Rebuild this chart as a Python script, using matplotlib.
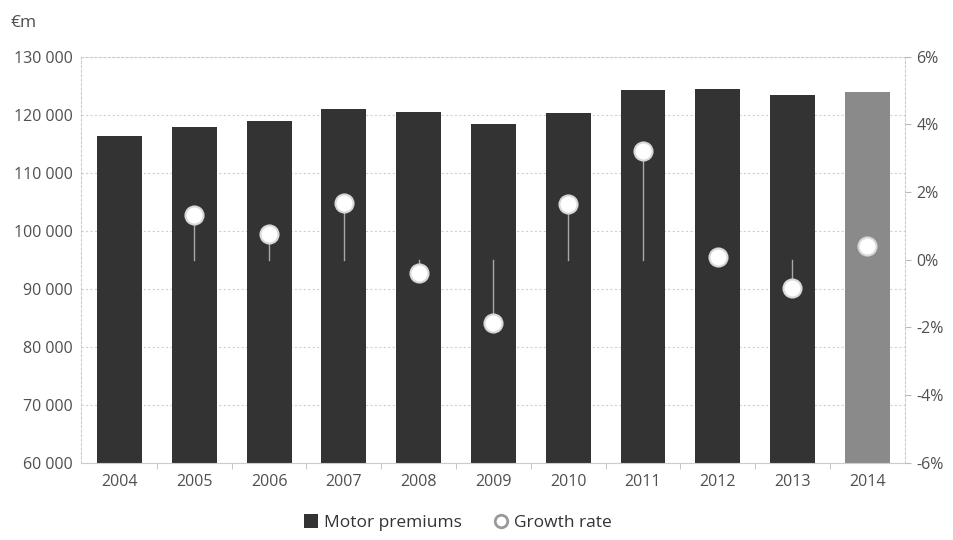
import matplotlib.pyplot as plt
from matplotlib.lines import Line2D
from matplotlib.patches import Patch
from matplotlib.ticker import FuncFormatter

plt.rcParams['font.family'] = ['Open Sans', 'DejaVu Sans']

years = ['2004', '2005', '2006', '2007', '2008', '2009', '2010', '2011', '2012', '2013', '2014']
premiums = [116400, 117900, 119000, 121000, 120500, 118400, 120300, 124300, 124500, 123400, 124000]
# taux de croissance (%), pas de valeur pour 2004
growth = [None, 1.33, 0.76, 1.68, -0.38, -1.86, 1.65, 3.22, 0.09, -0.83, 0.41]

text_col = '#505050'
fig = plt.figure(figsize=(9.54, 5.4), dpi=100)
ax = fig.add_axes([0.085, 0.143, 0.864, 0.752])
ax2 = ax.twinx()

x = list(range(len(years)))
cores = ['#333333'] * (len(years) - 1) + ['#8a8a8a']
ax.bar(x, premiums, width=0.6, color=cores, zorder=2)
ax.set_ylim(60000, 130000)
ax.set_yticks(range(60000, 130001, 10000))
ax.yaxis.set_major_formatter(FuncFormatter(lambda v, p: f'{int(v):,}'.replace(',', ' ')))
ax.grid(axis='y', color='#d0d0d0', linestyle=(0, (2, 2)), linewidth=0.8, zorder=0)
ax.set_axisbelow(True)
ax.set_xlim(-0.515, 10.51)
ax.set_xticks(x)
ax.set_xticklabels(years)
ax.set_xticks([i + 0.5 for i in x[:-1]], minor=True)
ax.tick_params(axis='x', which='major', length=0, pad=8)
ax.tick_params(axis='x', which='minor', length=4, color='#bbbbbb')
ax.tick_params(axis='y', length=0, pad=6)
ax.tick_params(colors=text_col, labelsize=11.5)

for s in ax.spines.values():
    s.set_color('#cccccc')
    s.set_linestyle((0, (2, 2)))
    s.set_linewidth(0.8)
ax.spines['bottom'].set_linestyle('-')
for s in ax2.spines.values():
    s.set_visible(False)

ax2.set_ylim(-6, 6)
ax2.set_yticks(range(-6, 7, 2))
ax2.yaxis.set_major_formatter(FuncFormatter(lambda v, p: f'{int(v)}%'))
ax2.tick_params(axis='y', length=4, color='#bbbbbb', colors=text_col, labelsize=11.5, pad=4)
ax2.tick_params(axis='y', color='#bbbbbb')

# linhas de queda ate 0% e marcadores
for i, g in enumerate(growth):
    if g is None:
        continue
    if i < len(years) - 1:
        ax2.plot([i, i], [0, g], color='#a8a8a8', linewidth=1.0, zorder=3)
    ax2.plot(i, g, 'o', markersize=13, markerfacecolor='white',
             markeredgecolor='#d8d8d8', markeredgewidth=1.5, zorder=4)

fig.text(0.011, 0.958, '€m', color=text_col, fontsize=12.5, ha='left', va='center')

handles = [Patch(facecolor='#333333', edgecolor='none'),
           Line2D([], [], marker='o', linestyle='none', markersize=9,
                  markerfacecolor='white', markeredgecolor='#999999', markeredgewidth=2)]
fig.legend(handles, ['Motor premiums', 'Growth rate'], loc='center', bbox_to_anchor=(0.48, 0.032),
           ncol=2, frameon=False, fontsize=12.5, labelcolor='#333333', handlelength=0.8,
           handleheight=0.8, handletextpad=0.4, columnspacing=1.8)

fig.savefig('out.png', dpi=100)
